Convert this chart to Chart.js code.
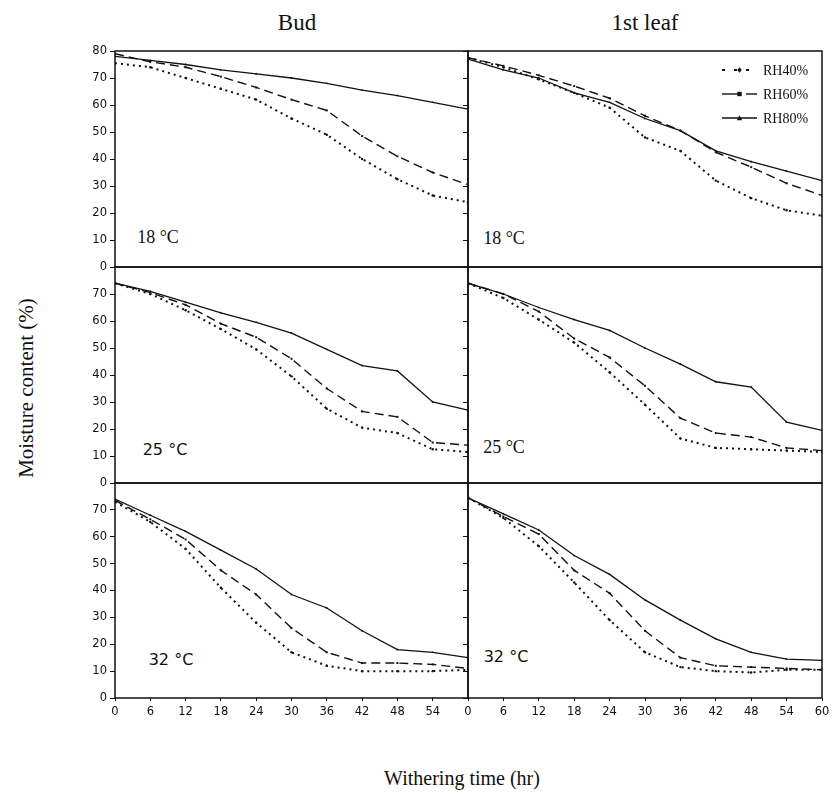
<!DOCTYPE html>
<html><head><meta charset="utf-8">
<script src="https://cdn.jsdelivr.net/npm/chart.js@4/dist/chart.umd.min.js"></script>
<style>
html,body{margin:0;padding:0;background:#fff;}
body{width:833px;height:795px;position:relative;overflow:hidden;}
canvas{position:absolute;}
.t{position:absolute;font-family:"Liberation Serif","Times New Roman",serif;color:#111;white-space:nowrap;transform:translate(-50%,-50%);line-height:1;}
.s{font-family:"DejaVu Sans",sans-serif;}
</style></head><body>
<div class="t" style="left:297px;top:22px;font-size:23px">Bud</div>
<div class="t" style="left:645px;top:22px;font-size:23px">1st leaf</div>
<div class="t" style="left:26px;top:388px;font-size:21px;transform:translate(-50%,-50%) rotate(-90deg)">Moisture content (%)</div>
<div class="t" style="left:462px;top:778px;font-size:20px">Withering time (hr)</div>
<div class="t" style="left:158px;top:237px;font-size:18px">18 °C</div>
<div class="t" style="left:504px;top:238px;font-size:18px">18 °C</div>
<div class="t s" style="left:165px;top:450px;font-size:16px">25 °C</div>
<div class="t" style="left:504px;top:447px;font-size:18px">25 °C</div>
<div class="t s" style="left:171px;top:660px;font-size:16px">32 °C</div>
<div class="t s" style="left:506px;top:657px;font-size:16px">32 °C</div>
<script>
// ---- data ----
const hours = [0, 6, 12, 18, 24, 30, 36, 42, 48, 54, 60];
const yTicks = [0, 10, 20, 30, 40, 50, 60, 70, 80];
const seriesNames = ['RH40%', 'RH60%', 'RH80%'];

const bud18_rh40 = [75.5, 74, 70, 66, 62, 55, 49, 40, 32.5, 26.5, 24];
const bud18_rh60 = [79, 76, 74, 70.5, 66.5, 62, 58, 48.5, 41, 35, 30.5];
const bud18_rh80 = [78, 76.5, 75, 73, 71.5, 70, 68, 65.5, 63.5, 61, 58.5];

const leaf18_rh40 = [77.5, 74, 69.5, 64.5, 59, 48, 43, 32, 25.5, 21, 19];
const leaf18_rh60 = [77.5, 74.5, 71, 67, 62.5, 56, 50.5, 42.5, 37, 31, 26.5];
const leaf18_rh80 = [77, 73, 70, 64.5, 61, 55, 50.5, 43, 39, 35.5, 32];

const bud25_rh40 = [74, 70, 64, 57, 49.5, 39.5, 27.5, 20.5, 18.5, 12.5, 11.5];
const bud25_rh60 = [74, 70.5, 66, 59, 54, 46, 35, 26.5, 24.5, 15, 14];
const bud25_rh80 = [74, 71, 67, 63, 59.5, 55.5, 49.5, 43.5, 41.5, 30, 27];

const leaf25_rh40 = [74, 68.5, 60.5, 52, 41, 29, 16.5, 13, 12.5, 12, 11.5];
const leaf25_rh60 = [74, 70, 63.5, 53.5, 46.5, 36, 24, 18.5, 17, 13, 12];
const leaf25_rh80 = [74, 70, 65, 60.5, 56.5, 50, 44, 37.5, 35.5, 22.5, 19.5];

const bud32_rh40 = [73, 65.5, 55.5, 41, 28, 17, 12, 10, 10, 10, 10.5];
const bud32_rh60 = [73.5, 66.5, 59, 47.5, 38.5, 26, 17, 13, 13, 12.5, 11];
const bud32_rh80 = [74, 68, 62, 55, 48, 38.5, 33.5, 25, 18, 17, 15];

const leaf32_rh40 = [74.5, 67, 56.5, 43, 29, 17, 11.5, 10, 9.5, 10.5, 10.5];
const leaf32_rh60 = [74.5, 67.5, 61, 47.5, 39, 25, 15, 12, 11.5, 11, 10.5];
const leaf32_rh80 = [74.5, 68.5, 62.5, 53, 46, 36.5, 29, 22, 17, 14.5, 14];

// ---- layout / style ----
const COLS = [[115, 468], [468, 822]];
const ROWS = [[51, 267], [267, 483], [483, 698]];
const INK = '#111';
const STYLES = [
  {borderColor: INK, borderWidth: 2, borderDash: [2, 4], pointStyle: 'circle', pointRadius: 1.2},
  {borderColor: INK, borderWidth: 1.4, borderDash: [9, 5], pointStyle: 'rect', pointRadius: 1.4},
  {borderColor: INK, borderWidth: 1.3, borderDash: [], pointStyle: 'triangle', pointRadius: 1.4}
];
const tickFont = {family: '"DejaVu Sans", sans-serif', size: 11.5};

const panels = [
  {row: 0, col: 0, series: [bud18_rh40, bud18_rh60, bud18_rh80]},
  {row: 0, col: 1, series: [leaf18_rh40, leaf18_rh60, leaf18_rh80], legend: true},
  {row: 1, col: 0, series: [bud25_rh40, bud25_rh60, bud25_rh80]},
  {row: 1, col: 1, series: [leaf25_rh40, leaf25_rh60, leaf25_rh80]},
  {row: 2, col: 0, series: [bud32_rh40, bud32_rh60, bud32_rh80]},
  {row: 2, col: 1, series: [leaf32_rh40, leaf32_rh60, leaf32_rh80]}
];

const framePlugin = {
  id: 'frame',
  afterDraw(chart) {
    const a = chart.chartArea, ctx = chart.ctx;
    ctx.save();
    ctx.strokeStyle = INK; ctx.lineWidth = 1.5; ctx.setLineDash([]);
    ctx.strokeRect(a.left, a.top, a.right - a.left, a.bottom - a.top);
    ctx.restore();
  }
};

function drawMarker(ctx, style, x, y, r) {
  ctx.beginPath();
  if (style === 'rect') { ctx.rect(x - r, y - r, 2 * r, 2 * r); }
  else if (style === 'triangle') { ctx.moveTo(x, y - r * 1.3); ctx.lineTo(x + r * 1.2, y + r); ctx.lineTo(x - r * 1.2, y + r); ctx.closePath(); }
  else { ctx.moveTo(x, y - r * 1.3); ctx.lineTo(x + r, y); ctx.lineTo(x, y + r * 1.3); ctx.lineTo(x - r, y); ctx.closePath(); }
  ctx.fill();
}

function legendPlugin(offX, offY) {
  return {
    id: 'lg',
    afterDraw(chart) {
      const ctx = chart.ctx;
      const rowsY = [70, 94, 118];
      chart.data.datasets.forEach((ds, i) => {
        const y = rowsY[i] - offY, x0 = 722 - offX, x1 = 757 - offX;
        ctx.save();
        ctx.strokeStyle = INK; ctx.fillStyle = INK;
        ctx.lineWidth = ds.borderWidth;
        ctx.setLineDash(i === 0 ? [3, 9] : []);
        ctx.beginPath();
        if (i === 1) {
          ctx.moveTo(x0, y); ctx.lineTo(x0 + 17, y); ctx.stroke();
          ctx.beginPath(); ctx.moveTo(x0 + 24, y); ctx.lineTo(x1, y);
        } else { ctx.moveTo(x0, y); ctx.lineTo(x1, y); }
        ctx.stroke();
        ctx.setLineDash([]);
        drawMarker(ctx, ds.pointStyle, (x0 + x1) / 2, y, 2.2);
        ctx.font = '14px "Liberation Serif", serif';
        ctx.textBaseline = 'middle';
        ctx.fillText(ds.label, 763 - offX, y + 1);
        ctx.restore();
      });
    }
  };
}

panels.forEach(p => {
  const isL = p.col === 0, isB = p.row === 2;
  const col = COLS[p.col], row = ROWS[p.row];
  const yW = isL ? 40 : 14;
  const padR = 14, padT = 14, xH = isB ? 26 : 0, padB = isB ? 0 : 14;
  const left = col[0] - yW, top = row[0] - padT;
  const W = col[1] - col[0] + yW + padR, H = row[1] - row[0] + padT + xH + padB;
  const cv = document.createElement('canvas');
  cv.width = W; cv.height = H;
  cv.style.left = left + 'px'; cv.style.top = top + 'px';
  cv.style.width = W + 'px'; cv.style.height = H + 'px';
  document.body.appendChild(cv);
  const plugins = [framePlugin];
  if (p.legend) plugins.push(legendPlugin(left, top));
  new Chart(cv, {
    type: 'line',
    data: {
      datasets: p.series.map((vals, i) => Object.assign({
        label: seriesNames[i],
        data: hours.map((h, j) => ({x: h, y: vals[j]})),
        fill: false, tension: 0,
        pointBackgroundColor: INK, pointBorderColor: INK, pointBorderWidth: 0
      }, STYLES[i]))
    },
    options: {
      responsive: false, animation: false, devicePixelRatio: 1,
      layout: {padding: {left: 0, right: padR, top: padT, bottom: padB}},
      plugins: {legend: {display: false}, tooltip: {enabled: false}},
      scales: {
        x: {
          type: 'linear', min: 0, max: 60, display: isB,
          afterBuildTicks: s => { s.ticks = hours.map(v => ({value: v})); },
          afterFit: s => { s.height = xH; },
          ticks: {callback: v => (isL && v === 60) ? '' : String(v), font: tickFont, color: INK, padding: 4, maxRotation: 0, autoSkip: false},
          grid: {drawOnChartArea: false, tickLength: 3, color: INK},
          border: {display: false}
        },
        y: {
          min: 0, max: 80,
          afterBuildTicks: s => { s.ticks = yTicks.map(v => ({value: v})); },
          afterFit: s => { s.width = yW; },
          ticks: {display: isL, callback: v => (p.row > 0 && v === 80) ? '' : String(v), font: tickFont, color: INK, padding: 3},
          grid: {drawOnChartArea: false, tickLength: 5, color: INK},
          border: {display: false}
        }
      }
    },
    plugins
  });
});
</script>
</body></html>
